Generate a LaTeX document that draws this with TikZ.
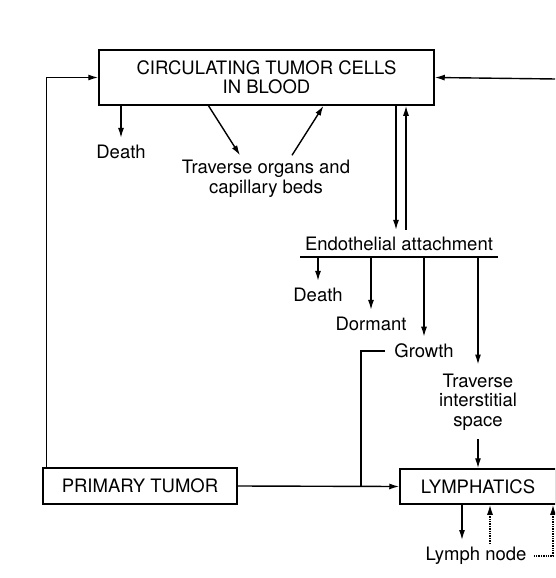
\documentclass[tikz,border=0pt]{standalone}
\usepackage{fontspec}
\setmainfont{TeX Gyre Heros}
\usetikzlibrary{arrows.meta}
\begin{document}
\begin{tikzpicture}[x=1pt,y=-1pt,
  box/.style={draw, line width=1.5pt, inner sep=0pt, align=center, font=\fontsize{18.5}{19.5}\selectfont},
  lbl/.style={inner sep=3pt, align=center, font=\fontsize{18.5}{19.5}\selectfont},
  arr/.style={-{Latex[length=10pt,width=6pt]}},
  conn/.style={line width=1.4pt},
  toLbl/.style={shorten >=4pt}]
\useasboundingbox (0,0) rectangle (555,578);
\clip (0,0) rectangle (555,578);
% nodes
\node[box, minimum width=335pt, minimum height=55pt] (ctc) at (266.5,77.5) {CIRCULATING TUMOR CELLS\\IN BLOOD};
\node[lbl] (d1) at (121,152) {Death};
\node[lbl] (to) at (266,179) {Traverse organs and\\capillary beds};
\node[lbl] (ea) at (399,244) {Endothelial attachment};
\node[lbl] (d2) at (318,295) {Death};
\node[lbl] (dor) at (371,324) {Dormant};
\node[lbl] (gr) at (424,351) {Growth};
\node[lbl] (tis) at (478,402) {Traverse\\interstitial\\space};
\node[box, minimum width=194pt, minimum height=36pt] (pt) at (140,486) {PRIMARY TUMOR};
\node[box, minimum width=156pt, minimum height=35pt] (lym) at (478,486.5) {LYMPHATICS};
\node[lbl] (ln) at (476,556) {Lymph node};
\coordinate (rin) at (556,79);
\coordinate (ulL) at (300,257);
\coordinate (ulR) at (498,257);
\coordinate (j) at (361,486);
% connectors
\draw[conn,arr] (pt.north west) ++(4,0) |- (ctc.west);
\draw[conn,arr] (rin) -- (ctc.east);
\draw[conn,arr,toLbl] (ctc.south -| d1) -- (d1.north);
\draw[conn,arr] ([xshift=-58pt]ctc.south) -- ([xshift=-26pt,yshift=2pt]to.north);
\draw[conn,arr] ([xshift=26pt,yshift=2pt]to.north) -- ([xshift=57pt]ctc.south);
\draw[conn,arr] ([xshift=129.5pt]ctc.south) -- ([xshift=-3pt,yshift=4pt]ea.north);
\draw[conn,arr] ([xshift=7pt,yshift=4pt]ea.north) -- ([xshift=139.5pt]ctc.south);
\draw[conn] (ulL) -- (ulR);
\draw[conn,arr,toLbl] (ulL -| d2) -- (d2.north);
\draw[conn,arr,toLbl] (ulL -| dor) -- (dor.north);
\draw[conn,arr,toLbl] (ulL -| gr) -- (gr.north);
\draw[conn,arr,shorten >=6pt] (ulL -| tis) -- (tis.north);
\draw[conn,arr] ([yshift=-6pt]tis.south) -- (lym.north);
\draw[conn] ([xshift=-6pt]gr.west) -| (j);
\draw[conn,arr] (pt.east) -- (lym.west);
\draw[conn,arr,shorten >=4pt] ([xshift=-16pt]lym.south) -- ([xshift=-14pt]ln.north);
\draw[conn,arr,densely dotted] ([xshift=14pt]ln.north) -- ([xshift=12pt]lym.south);
\draw[conn,arr,densely dotted] ([xshift=4pt]ln.east) -| ([xshift=75pt]lym.south);
\end{tikzpicture}
\end{document}
